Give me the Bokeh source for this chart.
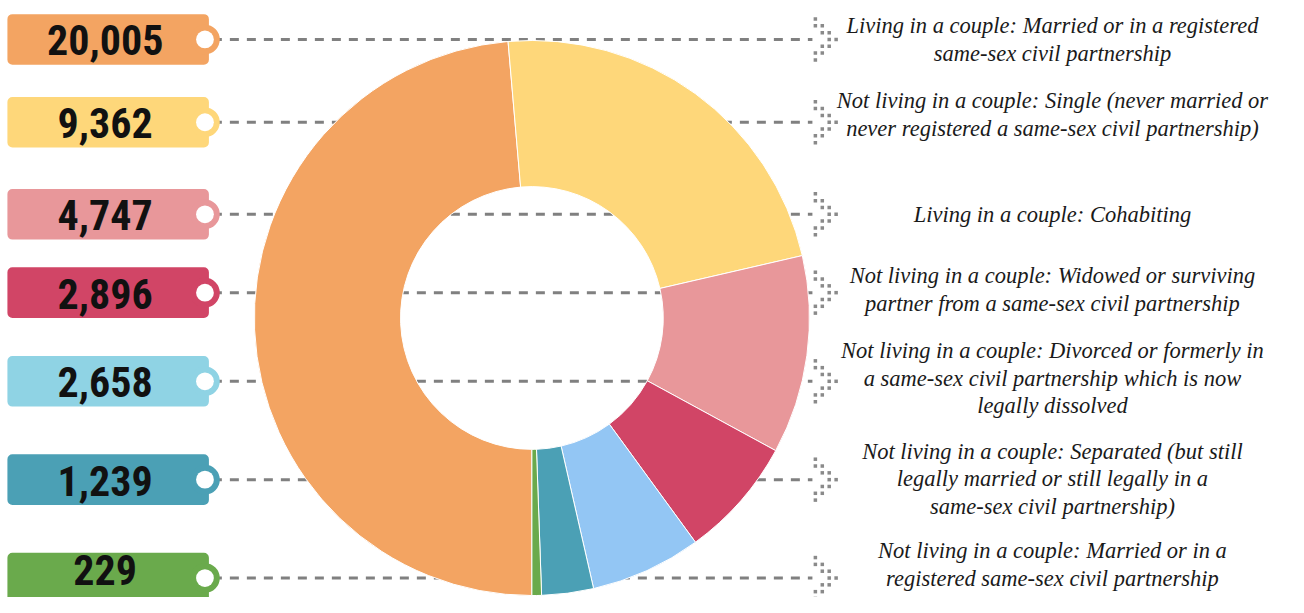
import numpy as np
from bokeh.plotting import figure
from bokeh.models import Range1d
from bokeh.core.properties import value
from bokeh.embed import file_html
from bokeh.resources import INLINE

# ---- data ----
categories = [
    "Living in a couple: Married or in a registered\nsame-sex civil partnership",
    "Not living in a couple: Single (never married or\nnever registered a same-sex civil partnership)",
    "Living in a couple: Cohabiting",
    "Not living in a couple: Widowed or surviving\npartner from a same-sex civil partnership",
    "Not living in a couple: Divorced or formerly in\na same-sex civil partnership which is now\nlegally dissolved",
    "Not living in a couple: Separated (but still\nlegally married or still legally in a\nsame-sex civil partnership)",
    "Not living in a couple: Married or in a\nregistered same-sex civil partnership",
]
counts = [20005, 9362, 4747, 2896, 2658, 1239, 229]
tag_colors = ["#f3a462", "#fed77a", "#e8979a", "#d14566", "#8fd3e4", "#4ba0b5", "#6aaa4c"]
slice_colors = ["#f3a462", "#fed77a", "#e8979a", "#d14566", "#93c6f4", "#4ba0b5", "#6aaa4c"]

# ---- layout (reference pixel coordinates) ----
row_y = [40, 125, 219.5, 300, 391, 492, 593]
label_dy = [0, -8, 0, -3, -3, -1, -14]
cx, cy = 538, 326
r_out, r_in = 281, 133

p = figure(width=1288, height=597, x_range=Range1d(0, 1304), y_range=Range1d(613, 0),
           output_backend="svg", toolbar_location=None, min_border=0,
           x_axis_type=None, y_axis_type=None)
p.grid.visible = False
p.outline_line_color = None
p.background_fill_color = "white"

# dashed connector lines
p.segment(x0=[215] * 7, y0=row_y, x1=[822] * 7, y1=row_y,
          line_color="#808080", line_width=3, line_dash="9 8")

# donut
total = float(sum(counts))
cum = np.concatenate([[0], np.cumsum(counts)]) / total
theta_s = 180 + cum[:-1] * 360   # clockwise from north
theta_e = 180 + cum[1:] * 360
start = np.deg2rad(90 - theta_s)
end = np.deg2rad(90 - theta_e)
p.annular_wedge(x=cx, y=cy, inner_radius=r_in, outer_radius=r_out,
                start_angle=start, end_angle=end, direction="clock",
                fill_color=slice_colors, line_color="white", line_width=1)

# tags
p.quad(left=[7] * 7, right=[211] * 7,
       top=[y - 26 for y in row_y], bottom=[y + 26 for y in row_y],
       fill_color=tag_colors, line_color=None, border_radius=5)
p.circle(x=[207] * 7, y=row_y, radius=15,
         fill_color=tag_colors, line_color=None)
p.circle(x=[207] * 7, y=row_y, radius=9,
         fill_color="white", line_color=None)
p.text(x=[106] * 7, y=[min(y + 1, 585) for y in row_y], text=[f"{c:,}" for c in counts],
       text_font=value("Noto Sans ExtraCondensed, Roboto Condensed, Noto Sans Condensed, DejaVu Sans Condensed"),
       text_font_style="bold", text_font_size="42px",
       text_align="center", text_baseline="middle", text_color="#111111")

# dotted arrow heads
pattern = [(0, -3), (0, -2), (1, -2), (1, -1), (2, -1), (2, 0), (3, 0),
           (2, 1), (1, 1), (1, 2), (0, 2), (0, 3)]
ax, ay = [], []
for y in row_y:
    for c, r in pattern:
        ax.append(825 + 7 * c)
        ay.append(y + 7 * r)
p.scatter(x=ax, y=ay, marker="square", size=3.5, fill_color="#8a8a8a", line_color=None)

# category labels
p.text(x=[1065] * 7, y=[y + d for y, d in zip(row_y, label_dy)], text=categories,
       text_font=value("Liberation Serif"), text_font_style="italic",
       text_font_size="22.5px", text_align="center", text_baseline="middle",
       text_line_height=1.1, text_color="#1a1a1a")

open("out.html", "w").write(file_html(p, INLINE))
